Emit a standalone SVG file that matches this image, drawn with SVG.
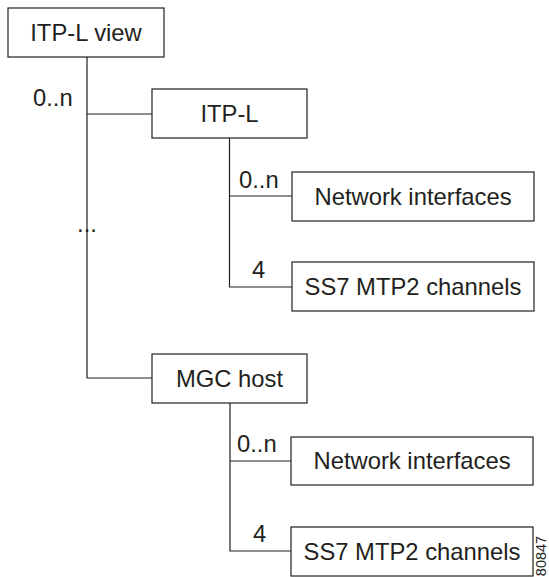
<svg xmlns="http://www.w3.org/2000/svg" width="549" height="577" viewBox="0 0 549 577">
<style>
.box{fill:#fff;stroke:#231f20;stroke-width:1.2}
.ln{fill:none;stroke:#231f20;stroke-width:1.2}
text{font-family:"Liberation Sans",Arial,sans-serif;font-size:23.8px;fill:#231f20}
.c{text-anchor:middle}
</style>
<rect width="549" height="577" fill="#fff"/>
<g id="connectors">
<path class="ln" d="M87 57V378H152M87 114H152"/>
<path class="ln" d="M229.5 138V287H292M229.5 196H292"/>
<path class="ln" d="M230 403V551H291M230 461H291"/>
</g>
<g id="labels">
<text x="33" y="106">0..n</text>
<text x="87" y="232" class="c">...</text>
<text x="239" y="188">0..n</text>
<text x="252" y="278">4</text>
<text x="237" y="452">0..n</text>
<text x="253" y="542">4</text>
</g>
<g id="itpl-view"><rect class="box" x="8" y="8" width="156" height="49"/><text x="86" y="41" class="c">ITP-L view</text></g>
<g id="itpl"><rect class="box" x="152" y="89" width="155" height="49"/><text x="229.5" y="122" class="c">ITP-L</text></g>
<g id="itpl-net"><rect class="box" x="292" y="172" width="242" height="49"/><text x="413" y="205" class="c">Network interfaces</text></g>
<g id="itpl-ss7"><rect class="box" x="292" y="262" width="242" height="49"/><text x="413" y="295" class="c">SS7 MTP2 channels</text></g>
<g id="mgc"><rect class="box" x="152" y="354" width="155" height="49"/><text x="229.5" y="387" class="c">MGC host</text></g>
<g id="mgc-net"><rect class="box" x="291" y="437" width="242" height="48"/><text x="412" y="469" class="c">Network interfaces</text></g>
<g id="mgc-ss7"><rect class="box" x="291" y="527" width="242" height="49"/><text x="412" y="560" class="c">SS7 MTP2 channels</text></g>
<text transform="translate(546 556) rotate(-90)" class="c" style="font-size:14.5px">80847</text>
</svg>
